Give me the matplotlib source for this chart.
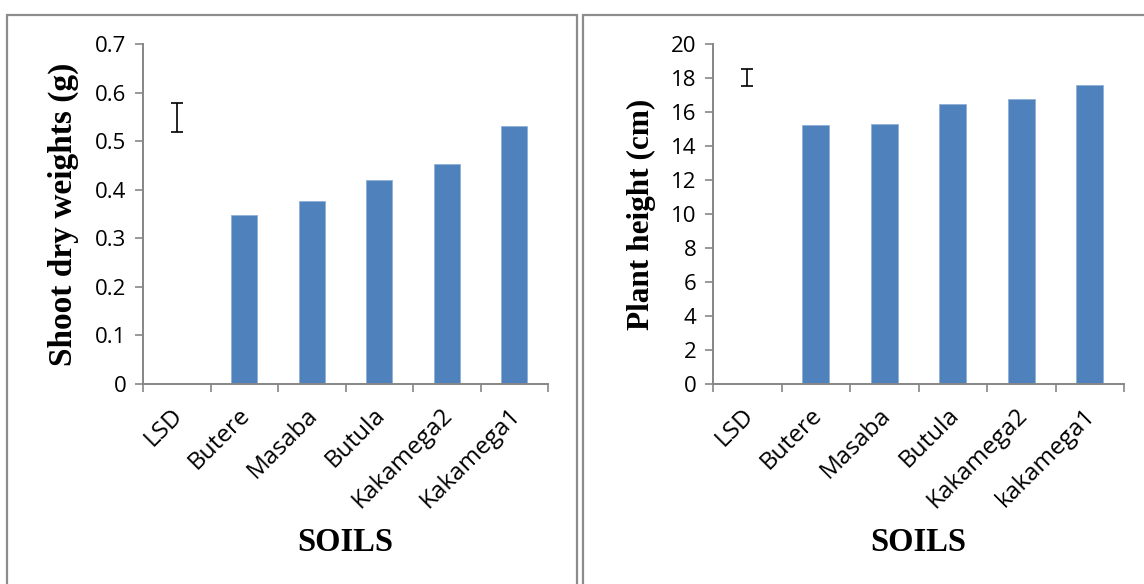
import matplotlib
matplotlib.use("Agg")
import matplotlib.pyplot as plt
from matplotlib.patches import Rectangle
from matplotlib.transforms import ScaledTranslation

# Soil categories and measured responses
soils_left = ["LSD", "Butere", "Masaba", "Butula", "Kakamega2", "Kakamega1"]
soils_right = ["LSD", "Butere", "Masaba", "Butula", "Kakamega2", "kakamega1"]

shoot_dry_weight = [None, 0.348, 0.377, 0.420, 0.453, 0.532]
plant_height = [None, 15.24, 15.29, 16.45, 16.75, 17.57]

# LSD bars (centre, half-width)
lsd_shoot = (0.549, 0.030)
lsd_height = (18.02, 0.49)

shoot_ticks = [0, 0.1, 0.2, 0.3, 0.4, 0.5, 0.6, 0.7]
shoot_tick_labels = ["0", "0.1", "0.2", "0.3", "0.4", "0.5", "0.6", "0.7"]
height_ticks = [0, 2, 4, 6, 8, 10, 12, 14, 16, 18, 20]
height_tick_labels = [str(t) for t in height_ticks]

BAR = "#4F81BD"
AXIS = "#868686"
TICK_FONT = "Open Sans"
LABEL_FONT = "Liberation Serif"

W, H = 1144, 584
fig = plt.figure(figsize=(W / 100, H / 100), dpi=100)

# panel frames
for x0, x1 in [(7, 577), (583, 1150)]:
    fig.add_artist(Rectangle((x0 / W, -0.05), (x1 - x0) / W, 1.05 - 15 / H,
                             transform=fig.transFigure, fill=False,
                             edgecolor="#8c8c8c", linewidth=1.6))


def panel(rect, names, values, lsd, ticks, tick_labels, ylim, ylabel,
          ylabel_x, ylabel_size):
    ax = fig.add_axes(rect)
    n = len(names)
    centres = [i + 0.5 for i in range(n)]
    xs = [c for c, v in zip(centres, values) if v is not None]
    hs = [v for v in values if v is not None]
    ax.bar(xs, hs, width=0.39, color=BAR, edgecolor="#8fb0d8", linewidth=0.6,
           zorder=2)
    ax.errorbar([centres[0]], [lsd[0]], yerr=[lsd[1]], fmt="none",
                ecolor="black", elinewidth=1.2, capsize=4.3, capthick=1.2,
                zorder=3)
    ax.set_xlim(0, n)
    ax.set_ylim(*ylim)
    ax.set_yticks(ticks)
    ax.set_xticks(range(n + 1))
    ax.set_xticks(centres, minor=True)

    ax.tick_params(axis="x", which="major", direction="out", length=6,
                   width=1.2, color=AXIS, labelbottom=False)
    ax.tick_params(axis="x", which="minor", length=0, pad=14)
    ax.tick_params(axis="y", direction="out", length=6, width=1.2,
                   color=AXIS, pad=6)

    ax.set_yticklabels(tick_labels, fontfamily=TICK_FONT, fontsize=16)
    ax.set_xticklabels(names, minor=True, rotation=45, ha="right", va="top",
                       fontfamily=TICK_FONT, fontsize=17.5)
    offset = ScaledTranslation(11 / 100, 0, fig.dpi_scale_trans)
    for lab in ax.get_xticklabels(minor=True):
        lab.set_transform(lab.get_transform() + offset)

    for side in ("top", "right"):
        ax.spines[side].set_visible(False)
    for side in ("left", "bottom"):
        ax.spines[side].set_color(AXIS)
        ax.spines[side].set_linewidth(1.4)
    ax.set_ylabel(ylabel, fontfamily=LABEL_FONT, fontweight="bold",
                  fontsize=ylabel_size)
    ax.yaxis.set_label_coords(ylabel_x, 0.5)
    ax.set_xlabel("SOILS", fontfamily=LABEL_FONT, fontweight="bold",
                  fontsize=23.5)
    ax.xaxis.set_label_coords(0.5, -0.42)
    return ax


panel([143 / W, 1 - 384 / H, 405 / W, 340 / H], soils_left, shoot_dry_weight,
      lsd_shoot, shoot_ticks, shoot_tick_labels, (0, 0.7),
      "Shoot dry weights (g)", -0.158, 24)
panel([713 / W, 1 - 384 / H, 411 / W, 340 / H], soils_right, plant_height,
      lsd_height, height_ticks, height_tick_labels, (0, 20),
      "Plant height (cm)", -0.139, 22.5)

fig.savefig("out.png", dpi=100)
